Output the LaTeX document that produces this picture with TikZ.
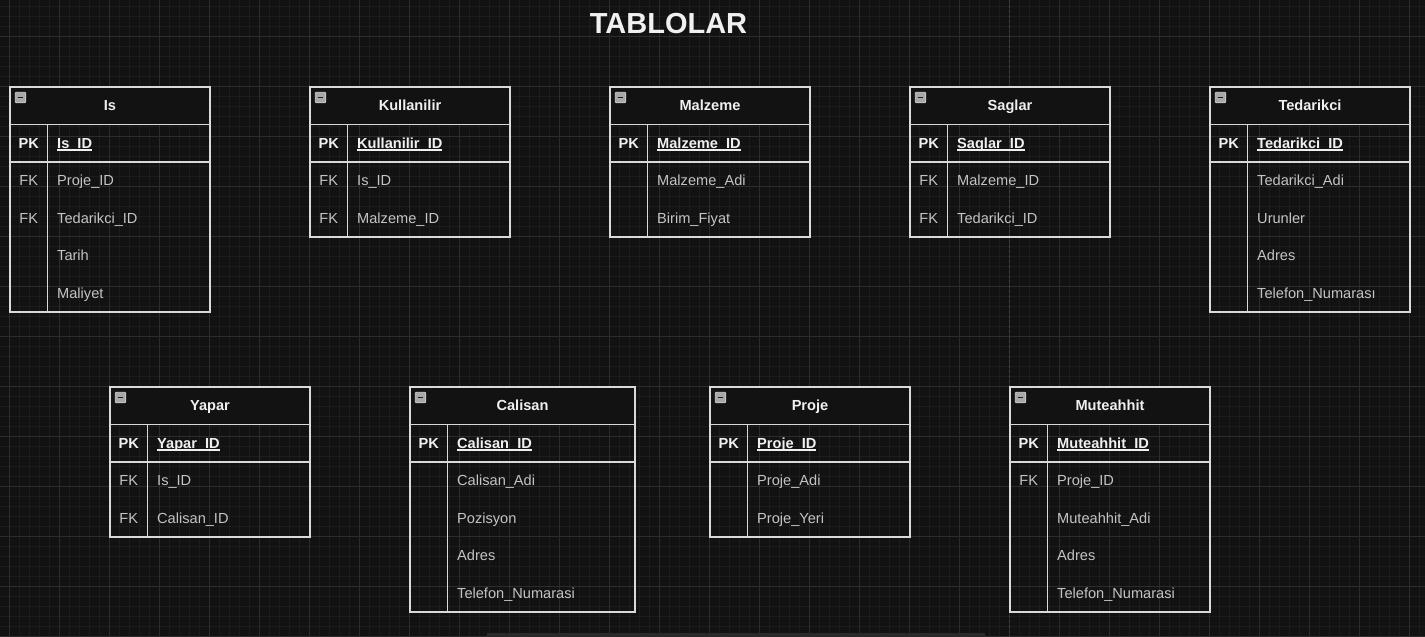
\documentclass[tikz,border=0pt]{standalone}
\usepackage{fontspec}
\setmainfont{Liberation Sans}
\definecolor{bg}{HTML}{121212}
\definecolor{gridminor}{HTML}{1C1C1C}
\definecolor{gridmajor}{HTML}{2C2C2C}
\definecolor{pagebreak}{HTML}{3E3E3E}
\definecolor{tline}{HTML}{DADADA}
\definecolor{ttext}{HTML}{F0F0F0}
\definecolor{ftext}{HTML}{C4C4C4}
\definecolor{iconfill}{HTML}{A8A8A8}
\definecolor{iconedge}{HTML}{D0D0D0}
\definecolor{icondash}{HTML}{1A1A1A}
\definecolor{scrollbar}{HTML}{2A2A2A}
\newcommand{\pkul}[1]{\setbox0\hbox{#1}\rlap{\rule[-2.4pt]{\wd0}{1.2pt}}\box0}
\newcommand{\tabfont}{\fontsize{14.6}{16}\selectfont}
\tikzset{
  tabline/.style={draw=tline, line width=1.3pt},
  headfill/.style={fill=bg},
  ttl/.style={font=\tabfont\bfseries, text=ttext, inner sep=0pt, anchor=base},
  pkt/.style={font=\tabfont\bfseries, text=ttext, inner sep=0pt, anchor=base},
  keyt/.style={font=\tabfont, text=ftext, inner sep=0pt, anchor=base},
  pkfield/.style={font=\tabfont\bfseries, text=ttext, inner sep=0pt, anchor=base west},
  fieldt/.style={font=\tabfont, text=ftext, inner sep=0pt, anchor=base west},
  collapseicon/.style={draw=iconedge, fill=iconfill, rounded corners=1pt, minimum size=10.5pt, inner sep=0pt, line width=0.8pt,
    path picture={\draw[line width=1.4pt, icondash] ([xshift=-2.8pt]path picture bounding box.center) -- ([xshift=2.8pt]path picture bounding box.center);}},
  titletext/.style={font=\fontsize{29}{32}\selectfont\bfseries, text=ttext, inner sep=0pt}
}
% #1 id, #2 x, #3 y, #4 width, #5 number of non-PK rows, #6 title, #7 pk field, #8 list key/field
\newcommand{\erdtab}[8]{%
  \pgfmathsetmacro{\erdbot}{#3+37.5*(#5+2)}%
  \coordinate (#1) at (#2,#3);
  \draw[tabline, headfill] (#2,#3) rectangle ({#2+#4},{#3+37.5});
  \draw[tabline] (#2,#3) rectangle ({#2+#4},\erdbot);
  \draw[tabline] (#2,{#3+75}) -- ({#2+#4},{#3+75});
  \draw[tabline] ({#2+37.5},{#3+37.5}) -- ({#2+37.5},\erdbot);
  \node[collapseicon] (#1-icon) at ({#2+10.5},{#3+10.5}) {};
  \node[ttl] (#1-title) at ({#2+#4/2},{#3+18.75+5}) {#6};
  \node[pkt] (#1-pk) at ({#2+18.75},{#3+56.25+5}) {PK};
  \node[pkfield] (#1-pkf) at ({#2+47},{#3+56.25+5}) {\pkul{#7}};
  \foreach [count=\i] \k/\f in {#8} {
    \node[keyt] (#1-k\i) at ({#2+18.75},{#3+75+37.5*\i-18.75+5}) {\k};
    \node[fieldt] (#1-f\i) at ({#2+47},{#3+75+37.5*\i-18.75+5}) {\f};
  }
}
\begin{document}
\begin{tikzpicture}[x=1pt,y=-1pt]
\useasboundingbox (0,0) rectangle (1425,637);
\fill[bg] (0,0) rectangle (1425,637);
% grid
\foreach \x in {9.5,19.5,...,1419.5} \draw[gridminor, line width=0.8pt] (\x,0) -- (\x,637);
\foreach \y in {6.5,16.5,...,636.5} \draw[gridminor, line width=0.8pt] (0,\y) -- (1425,\y);
\foreach \x in {9.5,59.5,...,1409.5} \draw[gridmajor, line width=0.9pt] (\x,0) -- (\x,637);
\foreach \y in {36.5,86.5,...,636.5} \draw[gridmajor, line width=0.9pt] (0,\y) -- (1425,\y);
% page break
\draw[pagebreak, line width=1pt, dash pattern=on 3pt off 2pt] (1009.5,0) -- (1009.5,637);
% scrollbar
\fill[scrollbar] (487,633) rectangle (985,637);
% title
\node[titletext] (title) at (668.5,24) {TABLOLAR};
% tables
\erdtab{is}{10}{87}{200}{4}{Is}{Is\_ID}{FK/Proje\_ID, FK/Tedarikci\_ID, {}/Tarih, {}/Maliyet}
\erdtab{kul}{310}{87}{200}{2}{Kullanilir}{Kullanilir\_ID}{FK/Is\_ID, FK/Malzeme\_ID}
\erdtab{mal}{610}{87}{200}{2}{Malzeme}{Malzeme\_ID}{{}/Malzeme\_Adi, {}/Birim\_Fiyat}
\erdtab{sag}{910}{87}{200}{2}{Saglar}{Saglar\_ID}{FK/Malzeme\_ID, FK/Tedarikci\_ID}
\erdtab{ted}{1210}{87}{200}{4}{Tedarikci}{Tedarikci\_ID}{{}/Tedarikci\_Adi, {}/Urunler, {}/Adres, {}/Telefon\_Numarası}
\erdtab{yap}{110}{387}{200}{2}{Yapar}{Yapar\_ID}{FK/Is\_ID, FK/Calisan\_ID}
\erdtab{cal}{410}{387}{225}{4}{Calisan}{Calisan\_ID}{{}/Calisan\_Adi, {}/Pozisyon, {}/Adres, {}/Telefon\_Numarasi}
\erdtab{pro}{710}{387}{200}{2}{Proje}{Proje\_ID}{{}/Proje\_Adi, {}/Proje\_Yeri}
\erdtab{mut}{1010}{387}{200}{4}{Muteahhit}{Muteahhit\_ID}{FK/Proje\_ID, {}/Muteahhit\_Adi, {}/Adres, {}/Telefon\_Numarasi}
\end{tikzpicture}
\end{document}
